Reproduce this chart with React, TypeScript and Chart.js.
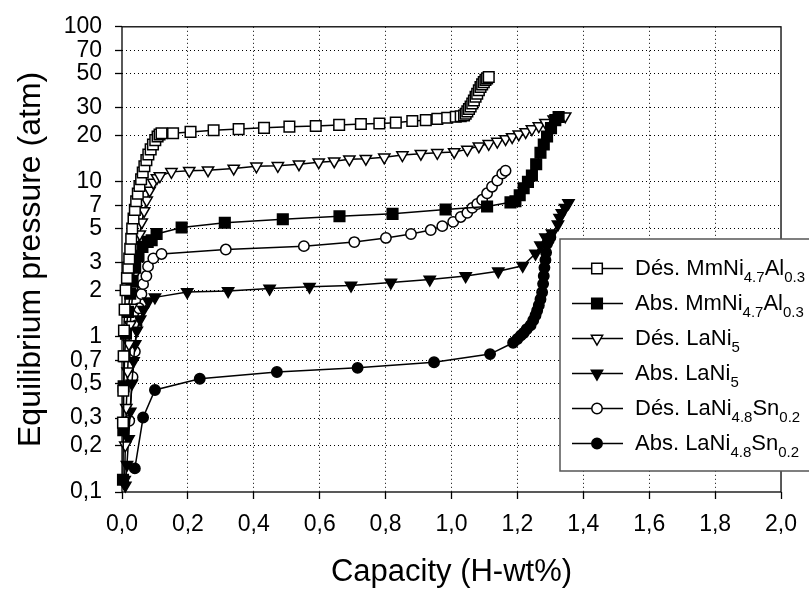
import React, { useEffect, useRef } from 'react';
import { Chart, registerables } from 'chart.js';

Chart.register(...registerables);

const FONT = '"Liberation Sans", Arial, Helvetica, sans-serif';

// Axis ticks
const xTickValues = [0, 0.2, 0.4, 0.6, 0.8, 1.0, 1.2, 1.4, 1.6, 1.8, 2.0];
const yTickValues = [0.1, 0.2, 0.3, 0.5, 0.7, 1, 2, 3, 5, 7, 10, 20, 30, 50, 70, 100];
const xTitle = 'Capacity (H-wt%)';
const yTitle = 'Equilibrium pressure (atm)';

// Legend labels: [text, isSubscript]
const legendDesMm: [string, boolean][] = [['Dés. MmNi', false], ['4.7', true], ['Al', false], ['0.3', true]];
const legendAbsMm: [string, boolean][] = [['Abs. MmNi', false], ['4.7', true], ['Al', false], ['0.3', true]];
const legendDesLa: [string, boolean][] = [['Dés. LaNi', false], ['5', true]];
const legendAbsLa: [string, boolean][] = [['Abs. LaNi', false], ['5', true]];
const legendDesSn: [string, boolean][] = [['Dés. LaNi', false], ['4.8', true], ['Sn', false], ['0.2', true]];
const legendAbsSn: [string, boolean][] = [['Abs. LaNi', false], ['4.8', true], ['Sn', false], ['0.2', true]];

// Dés. MmNi4.7Al0.3 (open squares)
const desMmX = [0.003, 0.004, 0.005, 0.006, 0.008, 0.011, 0.015, 0.019, 0.022, 0.025, 0.028, 0.031, 0.035, 0.039, 0.043, 0.048, 0.053, 0.058, 0.063, 0.068, 0.074, 0.080, 0.087, 0.094, 0.101, 0.108, 0.114, 0.120, 0.155, 0.208, 0.278, 0.354, 0.431, 0.508, 0.588, 0.659, 0.725, 0.781, 0.831, 0.881, 0.922, 0.957, 0.987, 1.013, 1.028, 1.038, 1.043, 1.048, 1.053, 1.058, 1.063, 1.068, 1.073, 1.078, 1.083, 1.088, 1.093, 1.098, 1.103, 1.108, 1.113];
const desMmY = [0.28, 0.45, 0.75, 1.1, 1.5, 2.0, 2.4, 2.8, 3.2, 3.7, 4.3, 5.0, 5.8, 6.6, 7.5, 8.4, 9.4, 10.4, 11.5, 12.6, 13.8, 15.0, 16.2, 17.4, 18.6, 19.6, 20.2, 20.6, 20.6, 21.0, 21.5, 21.9, 22.3, 22.7, 22.9, 23.3, 23.6, 23.8, 24.1, 24.7, 25.0, 25.5, 25.9, 26.3, 26.5, 26.8, 27.5, 28.5, 29.5, 30.6, 32.0, 33.5, 35.4, 37.0, 39.0, 40.9, 42.5, 44.0, 45.5, 46.5, 47.5];

// Abs. MmNi4.7Al0.3 (filled squares)
const absMmX = [0.003, 0.004, 0.005, 0.008, 0.012, 0.018, 0.025, 0.032, 0.040, 0.050, 0.062, 0.078, 0.090, 0.105, 0.181, 0.312, 0.488, 0.660, 0.821, 0.982, 1.108, 1.179, 1.194, 1.207, 1.219, 1.232, 1.244, 1.257, 1.270, 1.280, 1.290, 1.302, 1.315, 1.325];
const absMmY = [0.12, 0.25, 0.48, 0.75, 1.05, 1.45, 1.9, 2.3, 2.8, 3.3, 3.8, 4.1, 4.2, 4.61, 5.08, 5.45, 5.74, 6.0, 6.22, 6.64, 6.93, 7.38, 7.5, 8.2, 9.1, 10.0, 11.0, 13.0, 15.4, 17.4, 19.6, 22.2, 25.0, 26.2];

// Dés. LaNi5 (open down triangles)
const desLaX = [0.008, 0.010, 0.013, 0.017, 0.021, 0.025, 0.029, 0.033, 0.037, 0.042, 0.048, 0.054, 0.060, 0.067, 0.075, 0.084, 0.095, 0.106, 0.115, 0.150, 0.204, 0.261, 0.339, 0.408, 0.473, 0.537, 0.597, 0.644, 0.690, 0.740, 0.796, 0.851, 0.907, 0.957, 1.008, 1.048, 1.083, 1.113, 1.139, 1.164, 1.184, 1.204, 1.225, 1.244, 1.265, 1.285, 1.310, 1.330, 1.345];
const desLaY = [0.12, 0.2, 0.35, 0.6, 0.9, 1.2, 1.55, 2.0, 2.5, 3.1, 3.8, 4.6, 5.5, 6.5, 7.6, 8.8, 9.9, 10.6, 10.9, 11.6, 11.8, 11.9, 12.2, 12.6, 12.7, 13.0, 13.4, 13.6, 14.0, 14.1, 14.4, 14.9, 15.2, 15.4, 15.6, 16.2, 17.0, 17.6, 18.2, 18.9, 19.5, 20.3, 21.0, 21.9, 22.9, 24.1, 25.3, 26.3, 26.5];

// Abs. LaNi5 (filled down triangles)
const absLaX = [0.010, 0.015, 0.020, 0.025, 0.030, 0.035, 0.040, 0.045, 0.055, 0.065, 0.080, 0.100, 0.198, 0.322, 0.448, 0.569, 0.695, 0.816, 0.934, 1.043, 1.142, 1.216, 1.255, 1.270, 1.285, 1.305, 1.323, 1.328, 1.335, 1.345, 1.355];
const absLaY = [0.11, 0.15, 0.22, 0.33, 0.5, 0.7, 0.9, 1.1, 1.3, 1.5, 1.7, 1.80, 1.95, 1.98, 2.05, 2.11, 2.15, 2.24, 2.35, 2.47, 2.65, 2.88, 3.45, 3.9, 4.4, 4.66, 5.33, 5.88, 6.3, 6.8, 7.3];

// Dés. LaNi4.8Sn0.2 (open circles)
const desSnX = [0.022, 0.032, 0.039, 0.044, 0.052, 0.059, 0.064, 0.074, 0.079, 0.095, 0.120, 0.315, 0.552, 0.705, 0.801, 0.877, 0.937, 0.972, 1.005, 1.028, 1.048, 1.063, 1.078, 1.093, 1.108, 1.123, 1.139, 1.154, 1.164];
const desSnY = [0.288, 0.552, 0.805, 1.19, 1.53, 1.89, 2.19, 2.47, 2.85, 3.21, 3.43, 3.66, 3.85, 4.09, 4.35, 4.61, 4.89, 5.18, 5.52, 5.94, 6.32, 6.8, 7.2, 7.66, 8.44, 9.31, 10.2, 11.3, 11.8];

// Abs. LaNi4.8Sn0.2 (filled circles)
const absSnX = [0.039, 0.064, 0.100, 0.236, 0.470, 0.715, 0.947, 1.117, 1.187, 1.200, 1.210, 1.219, 1.228, 1.240, 1.248, 1.255, 1.260, 1.265, 1.270, 1.275, 1.278, 1.280, 1.282, 1.285, 1.287, 1.290, 1.295, 1.300];
const absSnY = [0.142, 0.302, 0.455, 0.538, 0.594, 0.632, 0.686, 0.775, 0.917, 0.97, 1.02, 1.06, 1.12, 1.19, 1.28, 1.38, 1.48, 1.60, 1.75, 1.94, 2.2, 2.47, 2.8, 3.14, 3.5, 3.99, 4.2, 4.4];

type Marker = 'rect' | 'triangle' | 'circle';
const seriesDefs: { x: number[]; y: number[]; marker: Marker; filled: boolean; radius: number; legend: [string, boolean][] }[] = [
  { x: desMmX, y: desMmY, marker: 'rect', filled: false, radius: 7.5, legend: legendDesMm },
  { x: absMmX, y: absMmY, marker: 'rect', filled: true, radius: 7.5, legend: legendAbsMm },
  { x: desLaX, y: desLaY, marker: 'triangle', filled: false, radius: 6.5, legend: legendDesLa },
  { x: absLaX, y: absLaY, marker: 'triangle', filled: true, radius: 6.5, legend: legendAbsLa },
  { x: desSnX, y: desSnY, marker: 'circle', filled: false, radius: 5.2, legend: legendDesSn },
  { x: absSnX, y: absSnY, marker: 'circle', filled: true, radius: 5.2, legend: legendAbsSn },
];

const fmt = (v: number, digits: number) => v.toFixed(digits).replace('.', ',');

function drawMarker(ctx: CanvasRenderingContext2D, marker: Marker, filled: boolean, r: number, x: number, y: number) {
  ctx.beginPath();
  if (marker === 'rect') {
    const s = Math.SQRT1_2 * r;
    ctx.rect(x - s, y - s, 2 * s, 2 * s);
  } else if (marker === 'circle') {
    ctx.arc(x, y, r, 0, Math.PI * 2);
  } else {
    let rad = Math.PI;
    ctx.moveTo(x + Math.sin(rad) * r, y - Math.cos(rad) * r);
    rad += (2 * Math.PI) / 3;
    ctx.lineTo(x + Math.sin(rad) * r, y - Math.cos(rad) * r);
    rad += (2 * Math.PI) / 3;
    ctx.lineTo(x + Math.sin(rad) * r, y - Math.cos(rad) * r);
    ctx.closePath();
  }
  ctx.fillStyle = filled ? '#000' : '#fff';
  ctx.fill();
  ctx.lineWidth = 1.5;
  ctx.strokeStyle = '#000';
  ctx.stroke();
}

const framePlugin = {
  id: 'frame',
  beforeDatasetsDraw(chart: any) {
    const { ctx, chartArea } = chart;
    ctx.save();
    ctx.strokeStyle = '#000';
    ctx.lineWidth = 1.3;
    ctx.strokeRect(chartArea.left, chartArea.top, chartArea.right - chartArea.left, chartArea.bottom - chartArea.top);
    ctx.restore();
  },
};

const legendPlugin = {
  id: 'customLegend',
  afterDraw(chart: any) {
    const { ctx } = chart;
    const boxX = 560;
    const boxY = 239;
    const boxW = 270;
    const boxH = 232;
    ctx.save();
    ctx.fillStyle = '#fff';
    ctx.fillRect(boxX, boxY, boxW, boxH);
    ctx.strokeStyle = '#555';
    ctx.lineWidth = 1.5;
    ctx.strokeRect(boxX, boxY, boxW, boxH);
    const rowStart = 268.5;
    const rowGap = 35;
    seriesDefs.forEach((s, i) => {
      const cy = rowStart + i * rowGap;
      ctx.beginPath();
      ctx.moveTo(572, cy);
      ctx.lineTo(623, cy);
      ctx.strokeStyle = '#000';
      ctx.lineWidth = 1.5;
      ctx.stroke();
      drawMarker(ctx, s.marker, s.filled, s.radius, 597, cy);
      let tx = 635;
      ctx.fillStyle = '#000';
      ctx.textBaseline = 'alphabetic';
      ctx.textAlign = 'left';
      s.legend.forEach(([text, sub]) => {
        ctx.font = sub ? `15px ${FONT}` : `22px ${FONT}`;
        ctx.fillText(text, tx, cy + (sub ? 13 : 6));
        tx += ctx.measureText(text).width;
      });
    });
    ctx.restore();
  },
};

export default function App() {
  const ref = useRef<HTMLCanvasElement>(null);
  useEffect(() => {
    const datasets = seriesDefs.map((s, i) => ({
      label: s.legend.map((p) => p[0]).join(''),
      data: s.x.map((xv, j) => ({ x: xv, y: s.y[j] })),
      showLine: true,
      borderColor: '#000',
      borderWidth: 1.5,
      pointStyle: s.marker,
      pointRotation: s.marker === 'triangle' ? 180 : 0,
      pointRadius: s.radius,
      pointBorderWidth: 1.5,
      pointBorderColor: '#000',
      pointBackgroundColor: s.filled ? '#000' : '#fff',
      tension: 0,
      clip: false as any,
      order: i,
    }));
    const chart = new Chart(ref.current!, {
      type: 'scatter',
      data: { datasets },
      options: {
        animation: false,
        responsive: false,
        devicePixelRatio: 1,
        layout: { padding: { left: 0, right: 27, top: 15, bottom: 0 } },
        plugins: { legend: { display: false }, tooltip: { enabled: false } },
        scales: {
          x: {
            type: 'linear',
            min: 0,
            max: 2,
            afterBuildTicks: (scale: any) => {
              scale.ticks = xTickValues.map((v) => ({ value: v }));
            },
            afterFit: (scale: any) => {
              scale.height = 105;
            },
            ticks: {
              autoSkip: false,
              maxRotation: 0,
              padding: 12,
              color: '#000',
              font: { family: FONT, size: 23 },
              callback: (v: any) => fmt(Number(v), 1),
            },
            grid: {
              color: (c: any) => (c.tick && c.tick.value > 0.001 && c.tick.value < 1.999 ? '#000' : 'rgba(0,0,0,0)'),
              lineWidth: 1,
              tickLength: 7,
              tickColor: '#000',
              tickWidth: 1.3,
              tickBorderDash: [],
            },
            border: { display: false, dash: [1, 3] },
            title: {
              display: true,
              text: xTitle,
              color: '#000',
              font: { family: FONT, size: 31 },
              padding: { top: 0, bottom: 6 },
            },
          },
          y: {
            type: 'logarithmic',
            min: 0.1,
            max: 100,
            afterBuildTicks: (scale: any) => {
              scale.ticks = yTickValues.map((v) => ({ value: v }));
            },
            afterFit: (scale: any) => {
              scale.width = 122;
            },
            ticks: {
              autoSkip: false,
              padding: 13,
              color: '#000',
              font: { family: FONT, size: 23 },
              callback: (v: any) => String(v).replace('.', ','),
            },
            grid: {
              color: (c: any) => (c.tick && c.tick.value > 0.1001 && c.tick.value < 99.9 ? '#000' : 'rgba(0,0,0,0)'),
              lineWidth: 1,
              tickLength: 7,
              tickColor: '#000',
              tickWidth: 1.3,
              tickBorderDash: [],
            },
            border: { display: false, dash: [1, 3] },
            title: {
              display: true,
              text: yTitle,
              color: '#000',
              font: { family: FONT, size: 32 },
              padding: { top: 12, bottom: 0 },
            },
          },
        },
      },
      plugins: [framePlugin, legendPlugin],
    } as any);
    return () => chart.destroy();
  }, []);
  return (
    <div style={{ position: 'fixed', left: 0, top: 0, width: 809, height: 597, background: '#fff' }}>
      <canvas ref={ref} width={809} height={597} style={{ width: 809, height: 597, display: 'block' }} />
    </div>
  );
}
